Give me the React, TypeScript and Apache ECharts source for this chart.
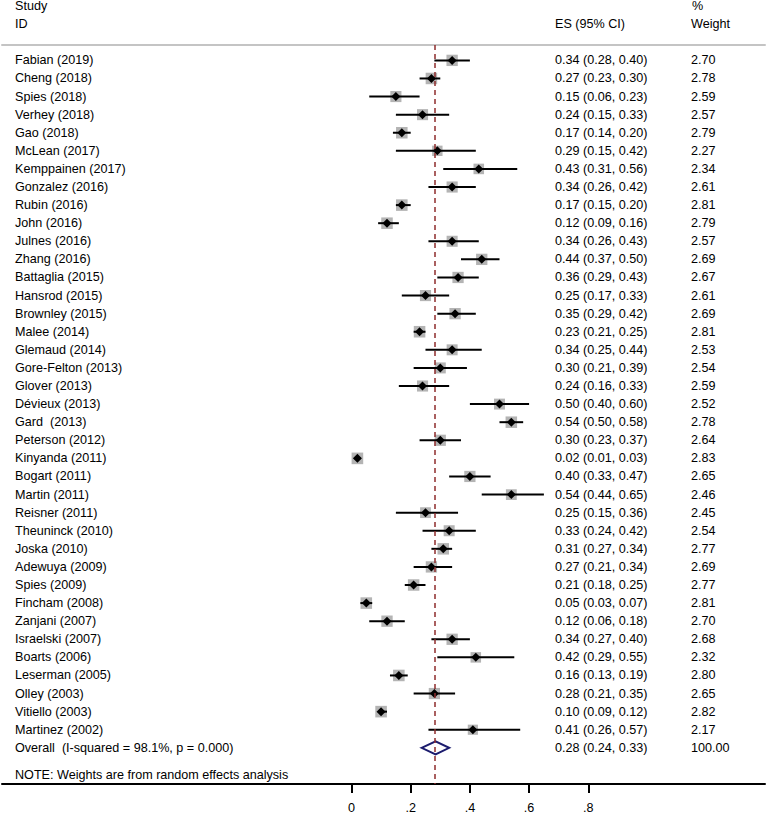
import React, { useEffect, useRef } from "react";
import * as echarts from "echarts";

const studies = [
  "Fabian (2019)", "Cheng (2018)", "Spies (2018)", "Verhey (2018)", "Gao (2018)",
  "McLean (2017)", "Kemppainen (2017)", "Gonzalez (2016)", "Rubin (2016)", "John (2016)",
  "Julnes (2016)", "Zhang (2016)", "Battaglia (2015)", "Hansrod (2015)", "Brownley (2015)",
  "Malee (2014)", "Glemaud (2014)", "Gore-Felton (2013)", "Glover (2013)", "Dévieux (2013)",
  "Gard  (2013)", "Peterson (2012)", "Kinyanda (2011)", "Bogart (2011)", "Martin (2011)",
  "Reisner (2011)", "Theuninck (2010)", "Joska (2010)", "Adewuya (2009)", "Spies (2009)",
  "Fincham (2008)", "Zanjani (2007)", "Israelski (2007)", "Boarts (2006)", "Leserman (2005)",
  "Olley (2003)", "Vitiello (2003)", "Martinez (2002)",
];
const es = [
  0.34, 0.27, 0.15, 0.24, 0.17, 0.29, 0.43, 0.34, 0.17, 0.12,
  0.34, 0.44, 0.36, 0.25, 0.35, 0.23, 0.34, 0.30, 0.24, 0.50,
  0.54, 0.30, 0.02, 0.40, 0.54, 0.25, 0.33, 0.31, 0.27, 0.21,
  0.05, 0.12, 0.34, 0.42, 0.16, 0.28, 0.10, 0.41,
];
const ciLow = [
  0.28, 0.23, 0.06, 0.15, 0.14, 0.15, 0.31, 0.26, 0.15, 0.09,
  0.26, 0.37, 0.29, 0.17, 0.29, 0.21, 0.25, 0.21, 0.16, 0.40,
  0.50, 0.23, 0.01, 0.33, 0.44, 0.15, 0.24, 0.27, 0.21, 0.18,
  0.03, 0.06, 0.27, 0.29, 0.13, 0.21, 0.09, 0.26,
];
const ciHigh = [
  0.40, 0.30, 0.23, 0.33, 0.20, 0.42, 0.56, 0.42, 0.20, 0.16,
  0.43, 0.50, 0.43, 0.33, 0.42, 0.25, 0.44, 0.39, 0.33, 0.60,
  0.58, 0.37, 0.03, 0.47, 0.65, 0.36, 0.42, 0.34, 0.34, 0.25,
  0.07, 0.18, 0.40, 0.55, 0.19, 0.35, 0.12, 0.57,
];
const weights = [
  2.70, 2.78, 2.59, 2.57, 2.79, 2.27, 2.34, 2.61, 2.81, 2.79,
  2.57, 2.69, 2.67, 2.61, 2.69, 2.81, 2.53, 2.54, 2.59, 2.52,
  2.78, 2.64, 2.83, 2.65, 2.46, 2.45, 2.54, 2.77, 2.69, 2.77,
  2.81, 2.70, 2.68, 2.32, 2.80, 2.65, 2.82, 2.17,
];
const overallLabel = "Overall  (I-squared = 98.1%, p = 0.000)";
const overallEs = 0.284;
const overallLow = 0.237;
const overallHigh = 0.33;
const overallWeight = 100.0;

const xTicks = [0, 0.2, 0.4, 0.6, 0.8];
const xTickLabels = ["0", ".2", ".4", ".6", ".8"];

const FONT_FAMILY = '"Liberation Sans", Arial, sans-serif';
const FONT = `12.6px ${FONT_FAMILY}`;
const COL_NAME = 15;
const COL_ES = 555;
const COL_W = 691;

function ciText(e: number, l: number, h: number) {
  return `${e.toFixed(2)} (${l.toFixed(2)}, ${h.toFixed(2)})`;
}

function txt(text: string, x: number, y: number) {
  return {
    type: "text",
    x,
    y,
    style: { text, font: FONT, fill: "#000", textAlign: "left", textVerticalAlign: "middle" },
  };
}

export default function App() {
  const ref = useRef<HTMLDivElement>(null);
  useEffect(() => {
    if (!ref.current) return;
    const chart = echarts.init(ref.current, undefined, { renderer: "svg" });
    const studyData = studies.map((_, i) => [ciLow[i], ciHigh[i], es[i], i, weights[i]]);
    const overallRow = studies.length;
    const option: any = {
      animation: false,
      backgroundColor: "#fff",
      grid: { left: 2, right: 3, top: 45, bottom: 28 },
      xAxis: [
        {
          type: "value",
          position: "bottom",
          min: -1.1807,
          max: 1.397,
          splitLine: { show: false },
          axisLine: { show: true, onZero: false, lineStyle: { color: "#000", width: 2 } },
          axisTick: { show: true, customValues: xTicks, length: 9, lineStyle: { color: "#000", width: 2 } },
          axisLabel: {
            show: true,
            customValues: xTicks,
            margin: 17,
            color: "#000",
            fontFamily: FONT_FAMILY,
            fontSize: 12.6,
            formatter: (v: number) => {
              let best = 0;
              xTicks.forEach((t, k) => {
                if (Math.abs(t - v) < Math.abs(xTicks[best] - v)) best = k;
              });
              return xTickLabels[best];
            },
          },
        },
        {
          type: "value",
          position: "top",
          min: -1.1807,
          max: 1.397,
          splitLine: { show: false },
          axisLine: { show: true, onZero: false, lineStyle: { color: "#c4c4c4", width: 2 } },
          axisTick: { show: false },
          axisLabel: { show: false },
        },
      ],
      yAxis: {
        type: "value",
        inverse: true,
        min: -0.85,
        max: 40,
        show: false,
      },
      graphic: [
        txt("Study", COL_NAME, 6),
        txt("ID", COL_NAME, 24),
        txt("ES (95% CI)", COL_ES, 24),
        txt("%", COL_W + 1, 6),
        txt("Weight", COL_W, 24),
        txt("NOTE: Weights are from random effects analysis", COL_NAME, 775),
      ],
      series: [
        {
          type: "line",
          data: [],
          z: 1,
          silent: true,
          markLine: {
            silent: true,
            symbol: "none",
            label: { show: false },
            lineStyle: { color: "#8e2c2c", type: [5, 4], width: 1.5 },
            data: [{ xAxis: overallEs }],
          },
        },
        {
          type: "custom",
          z: 2,
          silent: true,
          data: studyData,
          encode: { x: [0, 1, 2], y: 3 },
          renderItem: (params: any, api: any) => {
            const row = api.value(3);
            const c = api.coord([api.value(2), row]);
            const lo = api.coord([api.value(0), row]);
            const hi = api.coord([api.value(1), row]);
            const side = 6.9 * Math.sqrt(api.value(4));
            const i = params.dataIndex;
            return {
              type: "group",
              children: [
                {
                  type: "rect",
                  shape: { x: c[0] - side / 2, y: c[1] - side / 2, width: side, height: side },
                  style: { fill: "#b4b4b4" },
                },
                {
                  type: "line",
                  shape: { x1: lo[0], y1: c[1], x2: hi[0], y2: c[1] },
                  style: { stroke: "#000", lineWidth: 2 },
                },
                txt(studies[i], COL_NAME, c[1]),
                txt(ciText(es[i], ciLow[i], ciHigh[i]), COL_ES, c[1]),
                txt(weights[i].toFixed(2), COL_W, c[1]),
              ],
            };
          },
        },
        {
          type: "scatter",
          z: 3,
          silent: true,
          symbol: "diamond",
          symbolSize: [9, 9],
          itemStyle: { color: "#000", opacity: 1 },
          data: studies.map((_, i) => [es[i], i]),
        },
        {
          type: "custom",
          z: 3,
          silent: true,
          data: [[overallLow, overallHigh, overallEs, overallRow, overallWeight]],
          encode: { x: [0, 1, 2], y: 3 },
          renderItem: (params: any, api: any) => {
            const row = api.value(3);
            const c = api.coord([api.value(2), row]);
            const lo = api.coord([api.value(0), row]);
            const hi = api.coord([api.value(1), row]);
            const h = 6.5;
            return {
              type: "group",
              children: [
                {
                  type: "polygon",
                  shape: {
                    points: [
                      [lo[0], c[1]],
                      [c[0], c[1] - h],
                      [hi[0], c[1]],
                      [c[0], c[1] + h],
                    ],
                  },
                  style: { fill: "#fff", stroke: "#1c1c6e", lineWidth: 2 },
                },
                txt(overallLabel, COL_NAME, c[1]),
                txt(ciText(overallEs, overallLow, overallHigh), COL_ES, c[1]),
                txt(overallWeight.toFixed(2), COL_W, c[1]),
              ],
            };
          },
        },
      ],
    };
    chart.setOption(option);
    return () => chart.dispose();
  }, []);
  return (
    <div
      ref={ref}
      style={{ position: "absolute", left: 0, top: 0, width: 768, height: 814, background: "#fff" }}
    />
  );
}
